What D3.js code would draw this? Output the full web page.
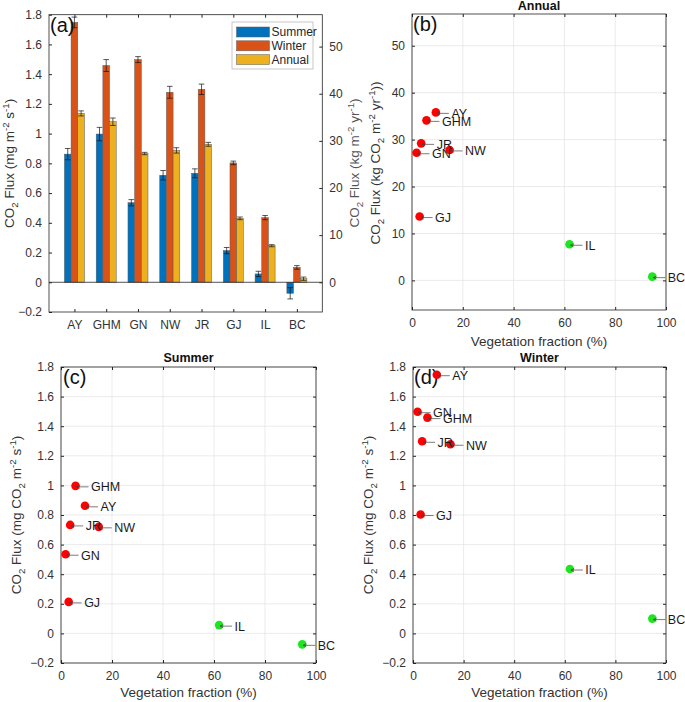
<!DOCTYPE html>
<html><head><meta charset="utf-8">
<script src="https://cdn.jsdelivr.net/npm/d3@7"></script>
<style>body{margin:0;background:#fff} svg{display:block;font-family:"Liberation Sans",Arial,sans-serif}</style>
</head><body><svg id="chart" width="685" height="702"></svg>
<script>
// ---------------- data ----------------
const sites = ["AY","GHM","GN","NW","JR","GJ","IL","BC"];
const summer = [0.862,0.997,0.535,0.720,0.733,0.213,0.056,-0.074];
const summerErr = [0.038,0.045,0.021,0.032,0.030,0.021,0.018,0.038];
const winter = [1.748,1.458,1.498,1.278,1.298,0.803,0.435,0.100];
const winterErr = [0.036,0.040,0.020,0.040,0.035,0.012,0.014,0.012];
const annual = [1.136,1.080,0.866,0.887,0.928,0.430,0.246,0.024];
const annualErr = [0.017,0.025,0.008,0.018,0.013,0.009,0.007,0.011];
const vegFraction = [9.4,5.7,1.8,14.8,3.6,3.0,62.0,94.6];
const annualKg = [35.8,34.1,27.2,27.8,29.2,13.6,7.7,0.8];
const siteType = ["urban","urban","urban","urban","urban","urban","vegetated","vegetated"];
const seriesNames = ["Summer","Winter","Annual"];
const fluxTicks = [-0.2,0,0.2,0.4,0.6,0.8,1,1.2,1.4,1.6,1.8];
const kgTicks = [0,10,20,30,40,50];
const vegTicks = [0,20,40,60,80,100];
const fluxDomain = [-0.2,1.8];
const kgPerMg = 31.536; // mg m-2 s-1 -> kg m-2 yr-1

// ---------------- style ----------------
const seriesColors = ["#0072BD","#D95319","#EDB120"];
const typeColors = {urban:"#ff0000", vegetated:"#1ee61e"};
const axisColor = "#262626";
const textColor = "#333";
const gridColor = "#e3e3e3";
const tickFont = 12;
const labelFont = 13.5;
const TL = 3;

const svg = d3.select("#chart");

function rich(sel, parts, size){
  parts.forEach(p=>{
    const t = sel.append("tspan").text(p.t);
    if(p.sub){ t.attr("dy", size*0.3).attr("font-size", size*0.72); }
    else if(p.sup){ t.attr("dy", -size*0.38).attr("font-size", size*0.72); }
    else if(p.back){ t.attr("dy", p.back*size); }
  });
}
const labelMgS = [{t:"CO"},{t:"2",sub:true},{t:" Flux (mg m",back:-0.3},{t:"-2",sup:true},{t:" s",back:0.38},{t:"-1",sup:true},{t:")",back:0.38}];
const labelMgCO2S = [{t:"CO"},{t:"2",sub:true},{t:" Flux (mg CO",back:-0.3},{t:"2",sub:true},{t:" m",back:-0.3},{t:"-2",sup:true},{t:" s",back:0.38},{t:"-1",sup:true},{t:")",back:0.38}];
const labelKgYr = [{t:"CO"},{t:"2",sub:true},{t:" Flux (kg m",back:-0.3},{t:"-2",sup:true},{t:" yr",back:0.38},{t:"-1",sup:true},{t:")",back:0.38}];
const labelKgCO2Yr = [{t:"CO"},{t:"2",sub:true},{t:" Flux (kg CO",back:-0.3},{t:"2",sub:true},{t:" m",back:-0.3},{t:"-2",sup:true},{t:" yr",back:0.38},{t:"-1",sup:true},{t:"))",back:0.38}];

function yLabel(x, y, parts, color){
  const t = svg.append("text").attr("transform",`translate(${x},${y}) rotate(-90)`)
    .attr("text-anchor","middle").attr("font-size",labelFont).attr("fill",color||textColor);
  rich(t, parts, labelFont);
}
function text(x,y,s,opts={}){
  return svg.append("text").attr("x",x).attr("y",y).text(s)
    .attr("font-size",opts.size||labelFont).attr("fill",opts.fill||textColor)
    .attr("text-anchor",opts.anchor||"middle").attr("font-weight",opts.weight||null);
}
function frame(x0,x1,y0,y1){
  svg.append("rect").attr("x",x0).attr("y",y0).attr("width",x1-x0).attr("height",y1-y0)
    .attr("fill","none").attr("stroke",axisColor).attr("stroke-width",0.8);
}
const ax = (axis, tx)=> svg.append("g").attr("transform",tx).call(axis)
    .call(s=>s.select(".domain").remove())
    .call(s=>s.selectAll("line").attr("stroke",axisColor))
    .call(s=>s.selectAll("text").attr("fill",textColor).attr("font-size",tickFont).attr("font-family",null));

// generic scatter panel
function scatterPanel(p){
  const x = d3.scaleLinear().domain([0,100]).range([p.x0,p.x1]);
  const y = d3.scaleLinear().domain(p.yDomain).range([p.y1,p.y0]);
  const g = svg.append("g");
  g.selectAll(".gx").data(vegTicks).enter().append("line")
    .attr("x1",d=>x(d)).attr("x2",d=>x(d)).attr("y1",p.y0).attr("y2",p.y1)
    .attr("stroke",gridColor).attr("stroke-width",0.7);
  g.selectAll(".gy").data(p.yTicks).enter().append("line")
    .attr("y1",d=>y(d)).attr("y2",d=>y(d)).attr("x1",p.x0).attr("x2",p.x1)
    .attr("stroke",gridColor).attr("stroke-width",0.7);
  ax(d3.axisBottom(x).tickValues(vegTicks).tickSizeInner(-TL).tickSizeOuter(0).tickPadding(8), `translate(0,${p.y1})`);
  ax(d3.axisTop(x).tickValues(vegTicks).tickSizeInner(-TL).tickSizeOuter(0).tickFormat(""), `translate(0,${p.y0})`);
  ax(d3.axisLeft(y).tickValues(p.yTicks).tickSizeInner(-TL).tickSizeOuter(0).tickPadding(7).tickFormat(p.fmt), `translate(${p.x0},0)`);
  ax(d3.axisRight(y).tickValues(p.yTicks).tickSizeInner(-TL).tickSizeOuter(0).tickFormat(""), `translate(${p.x1},0)`);
  frame(p.x0,p.x1,p.y0,p.y1);
  const pts = sites.map((s,i)=>({s, v:vegFraction[i], f:p.values[i], t:siteType[i]}));
  const pg = svg.append("g");
  pg.selectAll("circle").data(pts).enter().append("circle")
    .attr("cx",d=>x(d.v)).attr("cy",d=>y(d.f)).attr("r",4.3)
    .attr("fill",d=>typeColors[d.t]);
  pts.forEach(d=>{
    const cx = x(d.v), cy = y(d.f)+1;
    pg.append("line").attr("x1",cx+1).attr("x2",cx+13).attr("y1",cy).attr("y2",cy)
      .attr("stroke","#444").attr("stroke-width",0.7);
    pg.append("path").attr("d",`M${cx+1},${cy} l3,-1.6 M${cx+1},${cy} l3,1.6`)
      .attr("stroke","#444").attr("stroke-width",0.7).attr("fill","none");
    pg.append("text").attr("x",cx+15.5).attr("y",cy+4.4).text(d.s)
      .attr("font-size",12.5).attr("fill","#1a1a1a");
  });
}

// ---------------- panel (a) ----------------
const A = {x0:49, x1:322.3, y0:14.7, y1:312};
const xa = d3.scaleLinear().domain([0.2,8.8]).range([A.x0,A.x1]);
const ya = d3.scaleLinear().domain(fluxDomain).range([A.y1,A.y0]);
const yaR = d3.scaleLinear().domain(fluxDomain.map(v=>v*kgPerMg)).range([A.y1,A.y0]);
const barW = 0.21;
const seriesData = [summer, winter, annual];
const seriesErr = [summerErr, winterErr, annualErr];
const ga = svg.append("g");
seriesData.forEach((vals,k)=>{
  const bars = sites.map((s,i)=>({i, v:vals[i], e:seriesErr[k][i]}));
  ga.selectAll(null).data(bars).enter().append("rect")
    .attr("x",d=>xa(d.i+1+(k-1)*barW-barW/2))
    .attr("width",xa(barW)-xa(0))
    .attr("y",d=>ya(Math.max(0,d.v)))
    .attr("height",d=>Math.abs(ya(d.v)-ya(0)))
    .attr("fill",seriesColors[k]).attr("stroke","#5a5a5a").attr("stroke-width",0.5);
  bars.forEach(d=>{
    const cx = xa(d.i+1+(k-1)*barW);
    ga.append("path").attr("d",
      `M${cx},${ya(d.v-d.e)}V${ya(d.v+d.e)}M${cx-2.8},${ya(d.v+d.e)}H${cx+2.8}M${cx-2.8},${ya(d.v-d.e)}H${cx+2.8}`)
      .attr("stroke","#111").attr("stroke-width",0.7).attr("fill","none");
  });
});
ga.append("line").attr("x1",A.x0).attr("x2",A.x1).attr("y1",ya(0)).attr("y2",ya(0))
  .attr("stroke",axisColor).attr("stroke-width",0.8);
{
  const catPos = sites.map((s,i)=>i+1);
  ax(d3.axisBottom(xa).tickValues(catPos).tickFormat((d,i)=>sites[i]).tickSizeInner(-TL).tickSizeOuter(0).tickPadding(8), `translate(0,${A.y1})`);
  ax(d3.axisTop(xa).tickValues(catPos).tickFormat("").tickSizeInner(-TL).tickSizeOuter(0), `translate(0,${A.y0})`);
  ax(d3.axisLeft(ya).tickValues(fluxTicks).tickFormat(d3.format("~g")).tickSizeInner(-TL).tickSizeOuter(0).tickPadding(7), `translate(${A.x0},0)`);
  ax(d3.axisRight(yaR).tickValues(kgTicks).tickSizeInner(-TL).tickSizeOuter(0).tickPadding(7), `translate(${A.x1},0)`);
}
frame(A.x0,A.x1,A.y0,A.y1);
{
  const lg = svg.append("g");
  lg.append("rect").attr("x",232).attr("y",22).attr("width",81).attr("height",47)
    .attr("fill","#fff").attr("stroke","#b0b0b0").attr("stroke-width",0.7);
  seriesNames.forEach((n,k)=>{
    const yy = 27 + k*13.8;
    lg.append("rect").attr("x",236.5).attr("y",yy).attr("width",33).attr("height",10)
      .attr("fill",seriesColors[k]).attr("stroke","#5a5a5a").attr("stroke-width",0.5);
    lg.append("text").attr("x",271.5).attr("y",yy+9).text(n).attr("font-size",12).attr("fill",axisColor);
  });
}
text(A.x0+1, 32, "(a)", {size:20, anchor:"start", fill:"#111"});
yLabel(14, (A.y0+A.y1)/2, labelMgS);

// ---------------- panel (b) ----------------
const B = {x0:412, x1:666, y0:14, y1:310};
scatterPanel({...B, yDomain:fluxDomain.map(v=>v*kgPerMg), yTicks:kgTicks, fmt:d3.format("~g"), values:annualKg});
text(B.x0+1, 31, "(b)", {size:20, anchor:"start", fill:"#111"});
text((B.x0+B.x1)/2, 9.5, "Annual", {size:12.5, weight:"bold", fill:"#111"});
text((B.x0+B.x1)/2, 346, "Vegetation fraction (%)", {size:labelFont});
yLabel(359, 163, labelKgYr, "#555");
yLabel(380, 163, labelKgCO2Yr, "#333");

// ---------------- panel (c) ----------------
const C = {x0:61, x1:316, y0:367, y1:663};
scatterPanel({...C, yDomain:fluxDomain, yTicks:fluxTicks, fmt:d3.format("~g"), values:summer});
text(C.x0+2, 384, "(c)", {size:20, anchor:"start", fill:"#111"});
text((C.x0+C.x1)/2, 362, "Summer", {size:12.5, weight:"bold", fill:"#111"});
text((C.x0+C.x1)/2, 697, "Vegetation fraction (%)", {size:labelFont});
yLabel(21, (C.y0+C.y1)/2, labelMgCO2S);

// ---------------- panel (d) ----------------
const D = {x0:413, x1:666, y0:367, y1:663};
text(D.x0+1, 384, "(d)", {size:20, anchor:"start", fill:"#111"});
scatterPanel({...D, yDomain:fluxDomain, yTicks:fluxTicks, fmt:d3.format("~g"), values:winter});
text((D.x0+D.x1)/2, 362, "Winter", {size:12.5, weight:"bold", fill:"#111"});
text((D.x0+D.x1)/2, 697, "Vegetation fraction (%)", {size:labelFont});
yLabel(373, (D.y0+D.y1)/2, labelMgCO2S);
</script></body></html>
